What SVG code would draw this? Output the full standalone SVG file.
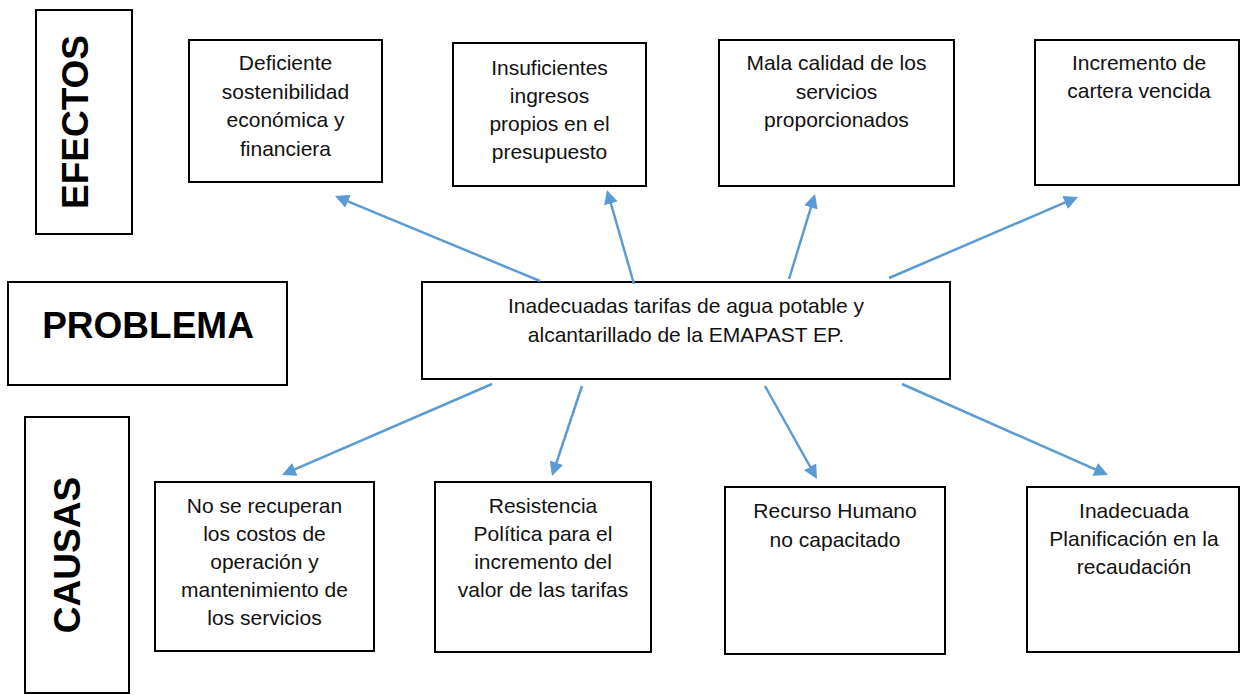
<svg xmlns="http://www.w3.org/2000/svg" width="1243" height="695" viewBox="0 0 1243 695">
<style>
  .box { fill: #ffffff; stroke: #000000; stroke-width: 2; }
  .t { font-family: "Liberation Sans", Arial, sans-serif; font-size: 21px; fill: #111111; text-anchor: middle; }
  .h { font-family: "Liberation Sans", Arial, sans-serif; font-size: 37px; font-weight: bold; fill: #000000; text-anchor: middle; }
  .conn line { stroke: #5B9BD5; stroke-width: 2.5; fill: none; marker-end: url(#arrow); }
</style>
<defs>
  <marker id="arrow" markerUnits="userSpaceOnUse" viewBox="0 0 14 14" markerWidth="14" markerHeight="14" refX="2" refY="7" orient="auto">
    <path d="M0,0 L14,7 L0,14 z" fill="#5B9BD5"/>
  </marker>
</defs>
<rect width="1243" height="695" fill="#ffffff"/>

<g id="efectos-label">
  <rect class="box" x="36" y="10" width="96" height="224"/>
  <text class="h" transform="translate(88,122) rotate(-90)">EFECTOS</text>
</g>
<g id="problema-label">
  <rect class="box" x="8" y="282" width="279" height="103"/>
  <text class="h" x="148" y="338">PROBLEMA</text>
</g>
<g id="causas-label">
  <rect class="box" x="25" y="417" width="104" height="276"/>
  <text class="h" transform="translate(80,555) rotate(-90)">CAUSAS</text>
</g>

<g id="efecto1">
  <rect class="box" x="189" y="40" width="193" height="142"/>
  <text class="t" x="285.5" y="70">Deficiente</text>
  <text class="t" x="285.5" y="99">sostenibilidad</text>
  <text class="t" x="285.5" y="127">económica y</text>
  <text class="t" x="285.5" y="156">financiera</text>
</g>
<g id="efecto2">
  <rect class="box" x="453" y="43" width="193" height="143"/>
  <text class="t" x="549.5" y="75">Insuficientes</text>
  <text class="t" x="549.5" y="103">ingresos</text>
  <text class="t" x="549.5" y="131">propios en el</text>
  <text class="t" x="549.5" y="159">presupuesto</text>
</g>
<g id="efecto3">
  <rect class="box" x="719" y="40" width="235" height="146"/>
  <text class="t" x="836.5" y="70">Mala calidad de los</text>
  <text class="t" x="836.5" y="99">servicios</text>
  <text class="t" x="836.5" y="127">proporcionados</text>
</g>
<g id="efecto4">
  <rect class="box" x="1035" y="40" width="204" height="145"/>
  <text class="t" x="1139" y="70">Incremento de</text>
  <text class="t" x="1139" y="98">cartera vencida</text>
</g>

<g id="problema">
  <rect class="box" x="422" y="282" width="528" height="97"/>
  <text class="t" x="686" y="313">Inadecuadas tarifas de agua potable y</text>
  <text class="t" x="686" y="342">alcantarillado de la EMAPAST EP.</text>
</g>

<g id="causa1">
  <rect class="box" x="155" y="482" width="219" height="169"/>
  <text class="t" x="264.5" y="513">No se recuperan</text>
  <text class="t" x="264.5" y="541">los costos de</text>
  <text class="t" x="264.5" y="569">operación y</text>
  <text class="t" x="264.5" y="597">mantenimiento de</text>
  <text class="t" x="264.5" y="625">los servicios</text>
</g>
<g id="causa2">
  <rect class="box" x="435" y="482" width="216" height="170"/>
  <text class="t" x="543" y="513">Resistencia</text>
  <text class="t" x="543" y="541">Política para el</text>
  <text class="t" x="543" y="569">incremento del</text>
  <text class="t" x="543" y="597">valor de las tarifas</text>
</g>
<g id="causa3">
  <rect class="box" x="725" y="487" width="220" height="167"/>
  <text class="t" x="835" y="518">Recurso Humano</text>
  <text class="t" x="835" y="547">no capacitado</text>
</g>
<g id="causa4">
  <rect class="box" x="1027" y="487" width="212" height="165"/>
  <text class="t" x="1134" y="518">Inadecuada</text>
  <text class="t" x="1134" y="546">Planificación en la</text>
  <text class="t" x="1134" y="574">recaudación</text>
</g>

<g id="connectors" class="conn">
  <line x1="540" y1="281" x2="346.1" y2="200.6"/>
  <line x1="634" y1="284" x2="610.3" y2="201.5"/>
  <line x1="789" y1="279" x2="811.5" y2="205.5"/>
  <line x1="889" y1="278" x2="1067" y2="201.7"/>
  <line x1="492" y1="384" x2="293" y2="470.2"/>
  <line x1="582" y1="386" x2="555.8" y2="464.6"/>
  <line x1="765" y1="386" x2="811.1" y2="468.5"/>
  <line x1="902" y1="384" x2="1097" y2="470.2"/>
</g>
</svg>
